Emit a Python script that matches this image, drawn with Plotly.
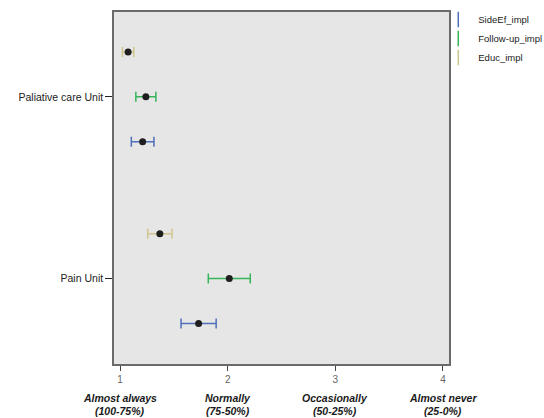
import plotly.graph_objects as go

# ---- data ----
categories = ["Pain Unit", "Paliative care Unit"]          # bottom to top
series = ["SideEf_impl", "Follow-up_impl", "Educ_impl"]   # legend order
means = {
    "SideEf_impl":    [1.73, 1.21],
    "Follow-up_impl": [2.015, 1.24],
    "Educ_impl":      [1.37, 1.075],
}
errors = {
    "SideEf_impl":    [0.163, 0.105],
    "Follow-up_impl": [0.195, 0.093],
    "Educ_impl":      [0.113, 0.053],
}
x_tickvals = [1, 2, 3, 4]
x_desc = ["Almost always", "Normally", "Occasionally", "Almost never"]
x_pct = ["(100-75%)", "(75-50%)", "(50-25%)", "(25-0%)"]

colors = {"SideEf_impl": "#4f6fb8", "Follow-up_impl": "#35b45a", "Educ_impl": "#cfc68f"}
offsets = {"SideEf_impl": -0.247, "Follow-up_impl": 0.0, "Educ_impl": 0.247}

FONT = "Liberation Sans, Arial, sans-serif"
NARROW = "Liberation Sans Narrow, Arial Narrow, Liberation Sans, Arial, sans-serif"

fig = go.Figure()
for s in series:
    ys = [i + offsets[s] for i in range(len(categories))]
    fig.add_trace(go.Scatter(
        x=means[s], y=ys, mode="markers", showlegend=False,
        marker=dict(color="#1e1e1e", size=7),
        error_x=dict(type="data", array=errors[s], visible=True,
                     color=colors[s], thickness=1.5, width=5),
        hoverinfo="skip",
    ))
for s in series:
    fig.add_trace(go.Scatter(
        x=[None], y=[None], mode="markers", name=s, showlegend=True,
        marker=dict(symbol="line-ns", size=11, line=dict(color=colors[s], width=1.5)),
    ))

for v, d, p in zip(x_tickvals, x_desc, x_pct):
    fig.add_annotation(x=v, y=-0.096, xref="x", yref="paper", yanchor="middle",
                       text="<b><i>%s</i></b>" % d, showarrow=False,
                       font=dict(family=FONT, size=10.5, color="#1a1a1a"))
    fig.add_annotation(x=v, y=-0.134, xref="x", yref="paper", yanchor="middle",
                       text="<b><i>%s</i></b>" % p, showarrow=False,
                       font=dict(family=FONT, size=10.5, color="#1a1a1a"))

fig.update_layout(
    width=544, height=418,
    margin=dict(l=114, r=95, t=12, b=54, autoexpand=False),
    paper_bgcolor="white", plot_bgcolor="#e6e6e6",
    font=dict(family=FONT, size=11, color="#222"),
    legend=dict(x=0.968, y=1.02, xanchor="left", yanchor="top",
                font=dict(family=NARROW, size=9.5, color="#1a1a1a"),
                bgcolor="rgba(0,0,0,0)", tracegroupgap=0, itemwidth=30),
    showlegend=True,
)
fig.update_xaxes(
    range=[0.944, 4.056], tickvals=x_tickvals, ticktext=[str(v) for v in x_tickvals],
    showgrid=False, zeroline=False, showline=True, linecolor="#6a6a6a", linewidth=1.5,
    mirror=True, ticks="outside", ticklen=5, tickcolor="#444",
    tickfont=dict(family=FONT, size=10, color="#666"),
)
fig.update_yaxes(
    range=[-0.47, 1.467], tickvals=list(range(len(categories))), ticktext=categories,
    showgrid=False, zeroline=False, showline=True, linecolor="#6a6a6a", linewidth=1.5,
    mirror=True, ticks="outside", ticklen=7, tickcolor="#222",
    tickfont=dict(family=FONT, size=10.5, color="#222"),
)

fig.write_html("out.html", config={"displayModeBar": False},
               post_script="document.body.style.margin='0';")
